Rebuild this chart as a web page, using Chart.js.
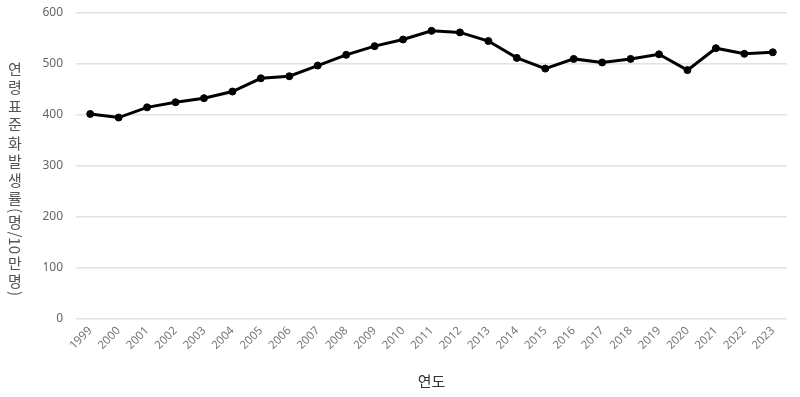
<!DOCTYPE html>
<html lang="ko">
<head>
<meta charset="utf-8">
<script src="https://cdn.jsdelivr.net/npm/chart.js@4"></script>
<style>
    html, body { margin: 0; padding: 0; background: #fff; }
</style>
</head>
<body>
<canvas id="incidenceChart" width="800" height="397"></canvas>
<script>
// Years on the x axis
const years = ['1999', '2000', '2001', '2002', '2003', '2004', '2005', '2006', '2007', '2008', '2009', '2010', '2011',
    '2012', '2013', '2014', '2015', '2016', '2017', '2018', '2019', '2020', '2021', '2022', '2023'];

// Age-standardized incidence (per 100k)
const incidenceRates = [402, 395, 415, 425, 433, 446, 472, 476, 497, 518, 535, 548, 565,
    562, 545, 512, 491, 510, 503, 510, 519, 488, 531, 520, 523];

// Y axis ticks
const yTicks = [0, 100, 200, 300, 400, 500, 600];

const xTitle = '연도';
const yTitle = '연령표준화발생률(명/10만명)';

// Draws the y title in vertical writing: hangul upright, other runs turned 90deg
const verticalYTitle = {
    id: 'verticalYTitle',
    afterDraw(chart) {
        const ctx = chart.ctx;
        const hangulStep = 18.5;
        const cx = 15;
        ctx.save();
        ctx.font = '15px "Noto Sans CJK KR", sans-serif';
        ctx.fillStyle = '#555';
        ctx.textBaseline = 'middle';

        // split into runs
        const runs = [];
        for (const ch of yTitle) {
            const isHangul = /[\uAC00-\uD7A3]/.test(ch);
            const last = runs[runs.length - 1];
            if (!isHangul && last && !last.upright) {
                last.text += ch;
            } else {
                runs.push({ text: ch, upright: isHangul });
            }
        }
        runs.forEach(r => {
            r.size = r.upright ? hangulStep : ctx.measureText(r.text).width;
        });
        const total = runs.reduce((s, r) => s + r.size, 0);
        let y = 178 - total / 2;
        runs.forEach(r => {
            if (r.upright) {
                ctx.textAlign = 'center';
                ctx.fillText(r.text, cx, y + r.size / 2);
            } else {
                ctx.save();
                ctx.translate(cx, y);
                ctx.rotate(Math.PI / 2);
                ctx.textAlign = 'left';
                ctx.fillText(r.text, 0, 0);
                ctx.restore();
            }
            y += r.size;
        });
        ctx.restore();
    }
};

const chartEl = document.getElementById('incidenceChart');

chartEl.chart = new Chart(chartEl, {
    type: 'line',
    data: {
        labels: years,
        datasets: [{
            data: incidenceRates,
            borderColor: '#000',
            backgroundColor: '#000',
            borderWidth: 3,
            pointRadius: 3.5,
            pointBackgroundColor: '#000',
            pointBorderColor: '#000',
            pointBorderWidth: 1,
            tension: 0,
            fill: false
        }]
    },
    options: {
        responsive: false,
        animation: false,
        layout: {
            padding: { top: 13, right: 13, left: 0, bottom: 0 }
        },
        scales: {
            x: {
                offset: true,
                grid: { display: false, drawTicks: false },
                border: { display: false },
                ticks: {
                    minRotation: 45,
                    maxRotation: 45,
                    padding: 5,
                    color: '#777',
                    font: { family: 'Noto Sans', size: 11.5 }
                },
                title: {
                    display: true,
                    text: xTitle,
                    color: '#333',
                    padding: { top: 0, bottom: 7 },
                    font: { family: 'Noto Sans CJK KR', size: 15 }
                },
                afterFit: function(scale) {
                    scale.height = 78;
                }
            },
            y: {
                min: yTicks[0],
                max: yTicks[yTicks.length - 1],
                afterBuildTicks: function(scale) {
                    scale.ticks = yTicks.map(v => ({ value: v }));
                },
                grid: {
                    color: '#e2e2e2',
                    lineWidth: 1.5,
                    drawTicks: false
                },
                border: { display: false },
                ticks: {
                    padding: 13,
                    color: '#666',
                    font: { family: 'Noto Sans', size: 12 }
                },
                afterFit: function(scale) {
                    scale.width = 76;
                    scale.paddingTop = 0;
                    scale.paddingBottom = 0;
                }
            }
        },
        plugins: {
            legend: { display: false },
            tooltip: { enabled: false }
        }
    },
    plugins: [verticalYTitle]
});
</script>
</body>
</html>
